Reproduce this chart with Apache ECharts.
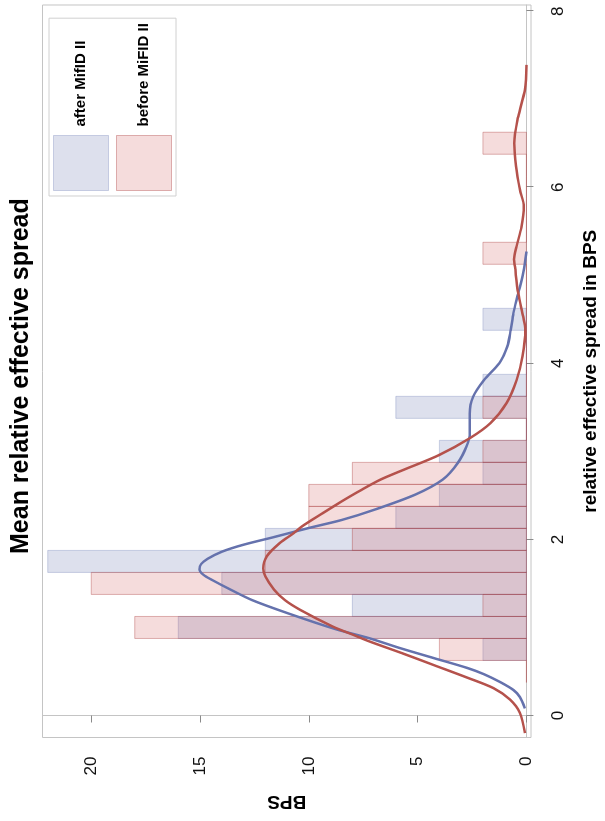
<!DOCTYPE html>
<html><head><meta charset="utf-8">
<script src="https://cdn.jsdelivr.net/npm/echarts@6/dist/echarts.min.js"></script>
<style>
html,body{margin:0;padding:0;width:605px;height:821px;overflow:hidden;background:#fff}
#chart{position:absolute;left:0;top:0;width:821px;height:605px;transform-origin:0 0;transform:translate(0px,821px) rotate(-90deg);}
</style></head><body><div id="chart"></div>
<script>
// Histogram bins (bin centre, relative effective spread in BPS) and heights
const binWidth = 0.25;
const afterBins = [0.75, 1.0, 1.25, 1.5, 1.75, 2.0, 2.25, 2.5, 2.75, 3.0, 3.25, 3.5, 3.75, 4.0, 4.25, 4.5];
const afterCounts = [2, 16, 8, 14, 22, 12, 6, 4, 2, 4, 0, 6, 2, 0, 0, 2];
const beforeBins = [0.5, 0.75, 1.0, 1.25, 1.5, 1.75, 2.0, 2.25, 2.5, 2.75, 3.0, 3.25, 3.5, 3.75, 4.0, 4.25, 4.5, 4.75, 5.0, 5.25, 5.5, 5.75, 6.0, 6.25, 6.5];
const beforeCounts = [0, 4, 18, 2, 20, 12, 8, 10, 10, 8, 2, 0, 2, 0, 0, 0, 0, 0, 0, 2, 0, 0, 0, 0, 2];

// Kernel density curves
const afterKdeX = [0.08, 0.21, 0.29, 0.38, 0.47, 0.54, 0.65, 0.76, 0.88, 0.98, 1.16, 1.31, 1.43, 1.54, 1.6, 1.66, 1.72, 1.78, 1.86, 1.94, 2.03, 2.13, 2.22, 2.34, 2.51, 2.68, 2.87, 3.06, 3.21, 3.43, 3.62, 3.81, 4.0, 4.19, 4.38, 4.57, 4.8, 5.03, 5.27];
const afterKdeY = [0.07, 0.30, 0.60, 1.21, 1.96, 2.72, 4.23, 5.74, 7.25, 8.76, 10.95, 12.6, 13.6, 14.45, 14.85, 15.02, 14.95, 14.65, 14.0, 13.0, 11.55, 10.0, 8.5, 6.95, 5.1, 3.85, 3.15, 2.75, 2.6, 2.6, 2.45, 1.95, 1.25, 0.88, 0.72, 0.60, 0.37, 0.15, 0.0];
const beforeKdeX = [-0.2, 0.03, 0.18, 0.31, 0.43, 0.57, 0.71, 0.84, 0.92, 1.01, 1.2, 1.31, 1.43, 1.58, 1.67, 1.81, 1.96, 2.07, 2.15, 2.3, 2.43, 2.56, 2.68, 2.79, 2.96, 3.15, 3.32, 3.55, 3.81, 4.08, 4.38, 4.53, 4.8, 5.1, 5.18, 5.33, 5.55, 5.78, 5.97, 6.24, 6.5, 6.8, 7.11, 7.39];
const beforeKdeY = [0.07, 0.30, 0.75, 1.51, 2.72, 4.23, 5.74, 7.2, 8.0, 8.9, 10.4, 11.1, 11.6, 12.0, 12.1, 11.93, 11.33, 10.7, 10.3, 9.35, 8.5, 7.6, 6.7, 5.65, 4.0, 2.6, 1.66, 0.91, 0.45, 0.18, 0.05, 0.15, 0.38, 0.53, 0.57, 0.45, 0.23, 0.12, 0.30, 0.48, 0.56, 0.38, 0.07, 0.0];

const xTicks = [0, 2, 4, 6, 8];
const yTicks = [0, 5, 10, 15, 20];
const seriesNames = ['after MifID II', 'before MiFID II'];

const FONT = 'Liberation Sans, Arial, sans-serif';
const afterFill = 'rgba(111,126,179,0.24)';
const afterStroke = 'rgba(100,115,175,0.30)';
const beforeFill = 'rgba(208,91,91,0.21)';
const beforeStroke = 'rgba(170,60,60,0.38)';
const afterLine = '#6572AD';
const beforeLine = '#B5524C';

function barRenderer(fill, stroke) {
  return function (params, api) {
    const x = api.value(0), y = api.value(1);
    const p0 = api.coord([x - binWidth / 2, y]);
    const p1 = api.coord([x + binWidth / 2, 0]);
    return {
      type: 'rect',
      shape: { x: p0[0], y: p0[1], width: p1[0] - p0[0], height: p1[1] - p0[1] },
      style: { fill: fill, stroke: stroke, lineWidth: 1 }
    };
  };
}

const chart = echarts.init(document.getElementById('chart'), null, { renderer: 'canvas' });
chart.setOption({
  animation: false,
  backgroundColor: '#ffffff',
  title: {
    text: 'Mean relative effective spread',
    left: 267, top: 9,
    padding: 0,
    textStyle: { fontFamily: FONT, fontWeight: 'bold', fontSize: 25, color: '#000' }
  },
  legend: {
    orient: 'vertical',
    left: 625, top: 49,
    padding: [4, 5, 4, 5],
    itemGap: 7,
    itemWidth: 55, itemHeight: 55,
    icon: 'rect',
    borderColor: '#d0d0d0', borderWidth: 1,
    textStyle: { fontFamily: FONT, fontWeight: 'bold', fontSize: 15, color: '#000', padding: [0, 0, 0, 4] },
    data: [
      { name: seriesNames[0], itemStyle: { color: afterFill, borderColor: afterStroke, borderWidth: 1 } },
      { name: seriesNames[1], itemStyle: { color: beforeFill, borderColor: beforeStroke, borderWidth: 1 } }
    ]
  },
  grid: {
    left: 83.5, right: 5, top: 42.5, bottom: 67,
    show: true, borderColor: '#c4c4c4', borderWidth: 1, containLabel: false
  },
  xAxis: {
    type: 'value', min: -0.25, max: 8.07,
    name: 'relative effective spread in BPS', nameLocation: 'middle', nameGap: 50,
    nameTextStyle: { fontFamily: FONT, fontWeight: 'bold', fontSize: 19, color: '#000' },
    axisLine: { show: true, lineStyle: { color: '#c4c4c4' } },
    axisTick: { show: true, customValues: xTicks, length: 7, lineStyle: { color: '#8a8a8a' } },
    axisLabel: { customValues: xTicks, fontFamily: FONT, fontSize: 17, color: '#111', margin: 19 },
    splitLine: { show: false }
  },
  yAxis: {
    type: 'value', min: -0.21, max: 22.24,
    name: 'BPS', nameLocation: 'middle', nameGap: 54,
    nameTextStyle: { fontFamily: FONT, fontWeight: 'bold', fontSize: 19, color: '#000' },
    axisLine: { show: true, lineStyle: { color: '#c4c4c4' } },
    axisTick: { show: true, customValues: yTicks, length: 7, lineStyle: { color: '#8a8a8a' } },
    axisLabel: { customValues: yTicks, fontFamily: FONT, fontSize: 17, color: '#111', margin: 19 },
    splitLine: { show: false }
  },
  series: [
    {
      name: seriesNames[0], type: 'custom', z: 2,
      itemStyle: { color: afterFill, borderColor: afterStroke },
      renderItem: barRenderer(afterFill, afterStroke),
      encode: { x: 0, y: 1 },
      data: afterBins.map((c, i) => [c, afterCounts[i]])
    },
    {
      name: seriesNames[1], type: 'custom', z: 3,
      itemStyle: { color: beforeFill, borderColor: beforeStroke },
      renderItem: barRenderer(beforeFill, beforeStroke),
      encode: { x: 0, y: 1 },
      data: beforeBins.map((c, i) => [c, beforeCounts[i]])
    },
    {
      name: 'after KDE', type: 'line', z: 5, smooth: 0.3, showSymbol: false,
      lineStyle: { color: afterLine, width: 2.5 }, itemStyle: { color: afterLine },
      data: afterKdeX.map((x, i) => [x, afterKdeY[i]])
    },
    {
      name: 'before KDE', type: 'line', z: 6, smooth: 0.3, showSymbol: false,
      lineStyle: { color: beforeLine, width: 2.5 }, itemStyle: { color: beforeLine },
      data: beforeKdeX.map((x, i) => [x, beforeKdeY[i]])
    }
  ]
});
</script></body></html>
